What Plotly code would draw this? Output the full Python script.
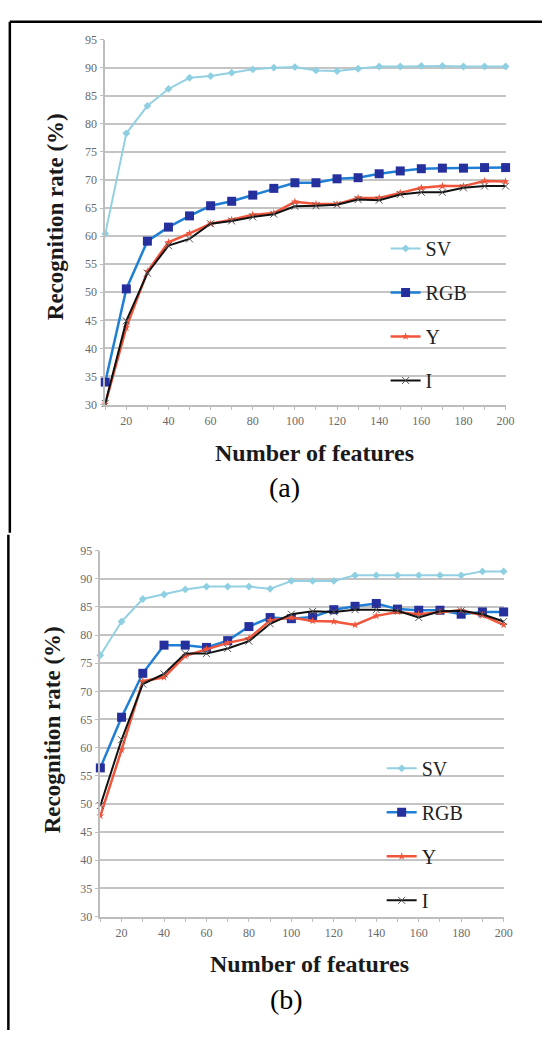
import plotly.graph_objects as go

W, H = 551, 1037

features = [10, 20, 30, 40, 50, 60, 70, 80, 90, 100, 110, 120, 130, 140, 150, 160, 170, 180, 190, 200]

a_sv = [60.4, 78.3, 83.2, 86.2, 88.2, 88.5, 89.1, 89.7, 90.0, 90.1, 89.5, 89.4, 89.8, 90.2, 90.2, 90.3, 90.3, 90.2, 90.2, 90.2]
a_rgb = [34.0, 50.6, 59.1, 61.6, 63.6, 65.4, 66.2, 67.3, 68.5, 69.5, 69.5, 70.2, 70.4, 71.1, 71.6, 72.0, 72.1, 72.1, 72.2, 72.2]
a_y = [30.1, 43.7, 53.7, 58.9, 60.5, 62.2, 62.9, 63.8, 64.1, 66.1, 65.7, 65.7, 66.8, 66.8, 67.7, 68.6, 68.9, 68.9, 69.8, 69.7]
a_i = [30.2, 44.9, 53.4, 58.3, 59.5, 62.2, 62.7, 63.4, 63.9, 65.3, 65.4, 65.6, 66.5, 66.4, 67.4, 67.8, 67.8, 68.6, 68.9, 68.9]

b_sv = [76.4, 82.4, 86.4, 87.2, 88.1, 88.6, 88.6, 88.6, 88.2, 89.6, 89.6, 89.6, 90.6, 90.6, 90.6, 90.6, 90.6, 90.6, 91.3, 91.3]
b_rgb = [56.4, 65.4, 73.2, 78.2, 78.2, 77.8, 79.0, 81.5, 83.1, 82.9, 83.2, 84.5, 85.1, 85.6, 84.6, 84.4, 84.4, 83.7, 84.1, 84.1]
b_y = [47.9, 59.6, 71.8, 72.5, 76.3, 77.5, 78.6, 79.4, 82.6, 83.1, 82.5, 82.4, 81.8, 83.4, 84.1, 83.7, 84.1, 84.4, 83.5, 81.8]
b_i = [49.7, 61.4, 71.3, 73.1, 76.7, 76.7, 77.6, 78.9, 82.0, 83.7, 84.2, 84.1, 84.5, 84.5, 84.3, 83.1, 84.2, 84.3, 83.7, 82.4]

series_names = ["SV", "RGB", "Y", "I"]
x_ticks = [20, 40, 60, 80, 100, 120, 140, 160, 180, 200]
y_ticks = [30, 35, 40, 45, 50, 55, 60, 65, 70, 75, 80, 85, 90, 95]

styles = {
    "SV": dict(line=dict(color="#93d0e2", width=2),
               marker=dict(symbol="diamond", size=6, color="#8fcfe2")),
    "RGB": dict(line=dict(color="#1f7fd4", width=2.5),
                marker=dict(symbol="square", size=9, color="#26309c")),
    "Y": dict(line=dict(color="#f0563c", width=2.5),
              marker=dict(symbol="star", size=6, color="#f0563c")),
    "I": dict(line=dict(color="#111111", width=2),
              marker=dict(symbol="x-thin", size=7, color="#555555",
                          line=dict(color="#555555", width=1))),
}


def px_x(p):
    return p / W


def px_y(p):
    return 1 - p / H


fig = go.Figure()

panels = [
    ("x", "y", "legend", [a_sv, a_rgb, a_y, a_i]),
    ("x2", "y2", "legend2", [b_sv, b_rgb, b_y, b_i]),
]
for xa, ya, lg, data in panels:
    for i, (name, vals) in enumerate(zip(series_names, data)):
        fig.add_trace(go.Scatter(
            x=features, y=vals, name=name, mode="lines+markers",
            xaxis=xa, yaxis=ya, legend=lg, legendgroup=lg + name,
            cliponaxis=False, **styles[name]))

tick_font = dict(family="Liberation Serif", size=12, color="#6a6a6a")
axis_common = dict(
    showline=True, linecolor="#bdbdbd", linewidth=1.5,
    showgrid=False, zeroline=False, tickfont=tick_font,
)
# panel (a): plot area px x 107-514, y 33-403
# panel (b): plot area px x 102-512, y 551-922
fig.update_layout(
    xaxis=dict(domain=[px_x(107), px_x(514)], anchor="y", range=[10, 200],
               tickvals=x_ticks, ticks="outside", ticklen=4, tickcolor="#bdbdbd",
               minor=dict(dtick=10, tick0=0, ticks="outside", ticklen=4, tickcolor="#bdbdbd"),
               **axis_common),
    yaxis=dict(domain=[px_y(403), px_y(33)], anchor="x", range=[30, 95],
               tickvals=y_ticks, ticks="outside", ticklen=4, tickcolor="#bdbdbd",
               showgrid=True, gridcolor="#c4c4c4", gridwidth=1.5,
               **{k: v for k, v in axis_common.items() if k != "showgrid"}),
    xaxis2=dict(domain=[px_x(102), px_x(512)], anchor="y2", range=[10, 200],
                tickvals=x_ticks, ticks="outside", ticklen=4, tickcolor="#bdbdbd",
                minor=dict(dtick=10, tick0=0, ticks="outside", ticklen=4, tickcolor="#bdbdbd"),
                **axis_common),
    yaxis2=dict(domain=[px_y(922), px_y(551)], anchor="x2", range=[30, 95],
                tickvals=y_ticks, ticks="outside", ticklen=4, tickcolor="#bdbdbd",
                showgrid=True, gridcolor="#c4c4c4", gridwidth=1.5,
                **{k: v for k, v in axis_common.items() if k != "showgrid"}),
)

legend_common = dict(
    xanchor="left", yanchor="top", bgcolor="rgba(0,0,0,0)",
    font=dict(family="Liberation Serif", size=20, color="#222222"),
    tracegroupgap=15, itemwidth=30,
)
fig.update_layout(
    legend=dict(x=px_x(392), y=px_y(225), **legend_common),
    legend2=dict(x=px_x(388), y=px_y(752), **legend_common),
)

title_font = dict(family="Liberation Serif", size=23, color="#1a1a1a")
annotations = [
    dict(text="<b>Number of features</b>", x=px_x(320), y=px_y(452),
         font=dict(family="Liberation Serif", size=24, color="#1a1a1a")),
    dict(text="<b>Recognition rate (%)</b>", x=px_x(56), y=px_y(213),
         textangle=-90, font=title_font),
    dict(text="(a)", x=px_x(289), y=px_y(487),
         font=dict(family="Liberation Serif", size=28, color="#000000")),
    dict(text="<b>Number of features</b>", x=px_x(315), y=px_y(970),
         font=dict(family="Liberation Serif", size=24, color="#1a1a1a")),
    dict(text="<b>Recognition rate (%)</b>", x=px_x(53), y=px_y(733),
         textangle=-90, font=title_font),
    dict(text="(b)", x=px_x(291), y=px_y(1006),
         font=dict(family="Liberation Serif", size=28, color="#000000")),
]
for a in annotations:
    a.update(xref="paper", yref="paper", showarrow=False,
             xanchor="center", yanchor="middle")
fig.update_layout(annotations=annotations)

border = dict(type="line", xref="paper", yref="paper",
              line=dict(color="#000000", width=2.5))
fig.update_layout(shapes=[
    dict(x0=px_x(10), x1=px_x(551), y0=px_y(15), y1=px_y(15), **border),
    dict(x0=px_x(10), x1=px_x(10), y0=px_y(15), y1=px_y(533), **border),
    dict(x0=px_x(8.5), x1=px_x(8.5), y0=px_y(535), y1=px_y(1037), **border),
])

fig.update_layout(
    width=W, height=H, margin=dict(l=0, r=0, t=0, b=0),
    paper_bgcolor="white", plot_bgcolor="white",
    showlegend=True,
)

fig.write_html("out.html")
